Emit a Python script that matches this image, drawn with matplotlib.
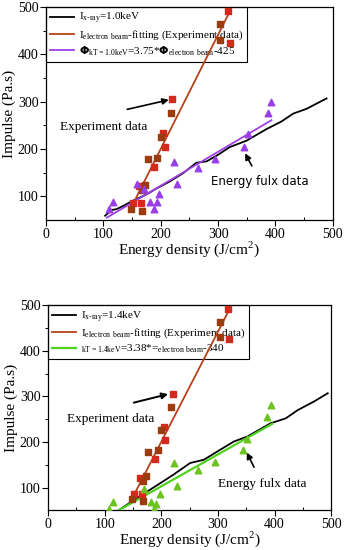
import matplotlib
matplotlib.use("Agg")
import matplotlib.pyplot as plt

plt.rcParams['font.family'] = ['Liberation Serif', 'DejaVu Serif']
plt.rcParams['mathtext.fontset'] = 'custom'
plt.rcParams['mathtext.rm'] = 'Liberation Serif'

# --- experiment (electron beam) data, same in both panels ---
exp_red_x = [318, 320, 220, 204, 207, 189, 152, 166, 162]
exp_red_y = [492, 425, 305, 233, 205, 162, 86, 86, 121]
exp_brown_x = [303, 303, 218, 200, 194, 177, 173, 148, 168, 167]
exp_brown_y = [464, 430, 276, 226, 182, 178, 125, 74, 70, 114]
fit_x = [148, 320]
fit_y = [75, 490]

# --- top panel: kT = 1.0 keV ---
xray1_x = [103, 114, 123, 135, 152, 175, 193, 215, 239, 262, 280, 300, 320, 350, 384, 410, 431, 454, 489]
xray1_y = [59, 71, 73, 80, 91, 104, 117, 131, 149, 171, 174, 188, 204, 218, 242, 258, 275, 285, 307]
flux1_x = [109, 116, 159, 170, 197, 182, 193, 189, 223, 228, 265, 294, 345, 352, 387, 393]
flux1_y = [74, 89, 126, 115, 104, 89, 87, 74, 173, 126, 159, 178, 205, 231, 276, 300]
line1_x = [106, 393]
line1_y = [55, 261]

# --- bottom panel: kT = 1.4 keV ---
xray2_x = [123, 162, 191, 221, 251, 275, 304, 328, 352, 393, 420, 441, 470, 494]
xray2_y = [49, 81, 104, 128, 154, 161, 183, 201, 212, 241, 252, 270, 289, 307]
flux2_x = [107, 114, 169, 197, 181, 190, 187, 223, 228, 264, 295, 344, 351, 387, 394]
flux2_y = [54, 68, 97, 85, 68, 65, 52, 154, 104, 139, 157, 183, 206, 254, 281]
line2_x = [123, 396]
line2_y = [49, 240]

fig = plt.figure(figsize=(3.46, 5.5), dpi=100)
ax1 = fig.add_axes([0.133, 0.60, 0.829, 0.387])
ax2 = fig.add_axes([0.139, 0.072, 0.818, 0.373])


def style_axes(ax):
    ax.set_xlim(0, 500)
    ax.set_ylim(50, 500)
    ax.set_xticks([0, 100, 200, 300, 400, 500])
    ax.set_yticks([100, 200, 300, 400, 500])
    ax.set_xticks([50, 150, 250, 350, 450], minor=True)
    ax.set_yticks([150, 250, 350, 450], minor=True)
    ax.tick_params(axis='both', which='major', direction='out', length=4, width=0.8, labelsize=10, pad=1.5)
    ax.tick_params(axis='x', which='minor', direction='in', length=2.5, width=0.7)
    ax.tick_params(axis='y', which='minor', direction='out', length=2.5, width=0.7)
    for s in ax.spines.values():
        s.set_linewidth(0.9)
    ax.set_xlabel('Energy density (J/cm$^2$)', fontsize=11, labelpad=-1)
    ax.set_ylabel('Impulse (Pa.s)', fontsize=11, labelpad=1)


def add_legend(ax):
    leg = ax.legend(loc='upper left', bbox_to_anchor=(0, 1), borderaxespad=0, fontsize=8,
                    fancybox=False, edgecolor='black', framealpha=1, handlelength=2.2,
                    handletextpad=0.4, labelspacing=0.2, borderpad=0.35)
    leg.get_frame().set_linewidth(0.8)
    leg.set_zorder(2)


# top panel
style_axes(ax1)
ax1.plot(xray1_x, xray1_y, color='black', lw=1.3, zorder=3,
         label='I$_{\\mathrm{x\\text{-}ray}}$=1.0keV')
ax1.plot(fit_x, fit_y, color='#b5421c', lw=1.3, zorder=3,
         label='I$_{\\mathrm{electron\\ beam}}$-fitting (Experiment data)')
ax1.plot(line1_x, line1_y, color='#a040e8', lw=1.3, zorder=3,
         label='$\\mathbf{\\Phi}_{\\mathrm{kT=1.0keV}}$=3.75*$\\mathbf{\\Phi}_{\\mathrm{electron\\ beam}}$-425')
ax1.scatter(exp_red_x, exp_red_y, marker='s', s=18, color='#d42a1e', zorder=4)
ax1.scatter(exp_brown_x, exp_brown_y, marker='s', s=18, color='#9a3c10', zorder=4)
ax1.scatter(flux1_x, flux1_y, marker='^', s=22, color='#9a3ee8', zorder=4)
ax1.annotate('Experiment data', xy=(214, 304), xytext=(100, 247), fontsize=9.5,
             ha='center', va='center',
             arrowprops=dict(arrowstyle='-|>', color='black', lw=1.2, mutation_scale=9,
                             shrinkA=28, shrinkB=0, relpos=(0.2, 1.0)))
ax1.annotate('Energy fulx data', xy=(347, 191), xytext=(373, 132), fontsize=8.5,
             family='DejaVu Sans', ha='center', va='center',
             arrowprops=dict(arrowstyle='-|>', color='black', lw=1.2, mutation_scale=9,
                             shrinkA=5, shrinkB=0))
add_legend(ax1)

# bottom panel
style_axes(ax2)
ax2.plot(xray2_x, xray2_y, color='black', lw=1.3, zorder=3,
         label='I$_{\\mathrm{x\\text{-}ray}}$=1.4keV')
ax2.plot(fit_x, fit_y, color='#b5421c', lw=1.3, zorder=3,
         label='I$_{\\mathrm{electron\\ beam}}$-fitting (Experiment data)')
ax2.plot(line2_x, line2_y, color='#4ed21e', lw=1.6, zorder=3,
         label='$_{\\mathrm{kT=1.4keV}}$=3.38*=$_{\\mathrm{electron\\ beam}}$-340')
ax2.scatter(exp_red_x, exp_red_y, marker='s', s=18, color='#d42a1e', zorder=4)
ax2.scatter(exp_brown_x, exp_brown_y, marker='s', s=18, color='#9a3c10', zorder=4)
ax2.scatter(flux2_x, flux2_y, marker='^', s=22, color='#6cc21e', zorder=4)
ax2.annotate('Experiment data', xy=(212, 305), xytext=(110, 251), fontsize=9.5,
             ha='center', va='center',
             arrowprops=dict(arrowstyle='-|>', color='black', lw=1.4, mutation_scale=9,
                             shrinkA=22, shrinkB=0, relpos=(0.3, 1.0)))
ax2.annotate('Energy fulx data', xy=(351, 177), xytext=(378, 109), fontsize=9.5,
             ha='center', va='center',
             arrowprops=dict(arrowstyle='-|>', color='black', lw=1.2, mutation_scale=9,
                             shrinkA=6, shrinkB=0))
add_legend(ax2)

fig.savefig('out.png', dpi=100)
